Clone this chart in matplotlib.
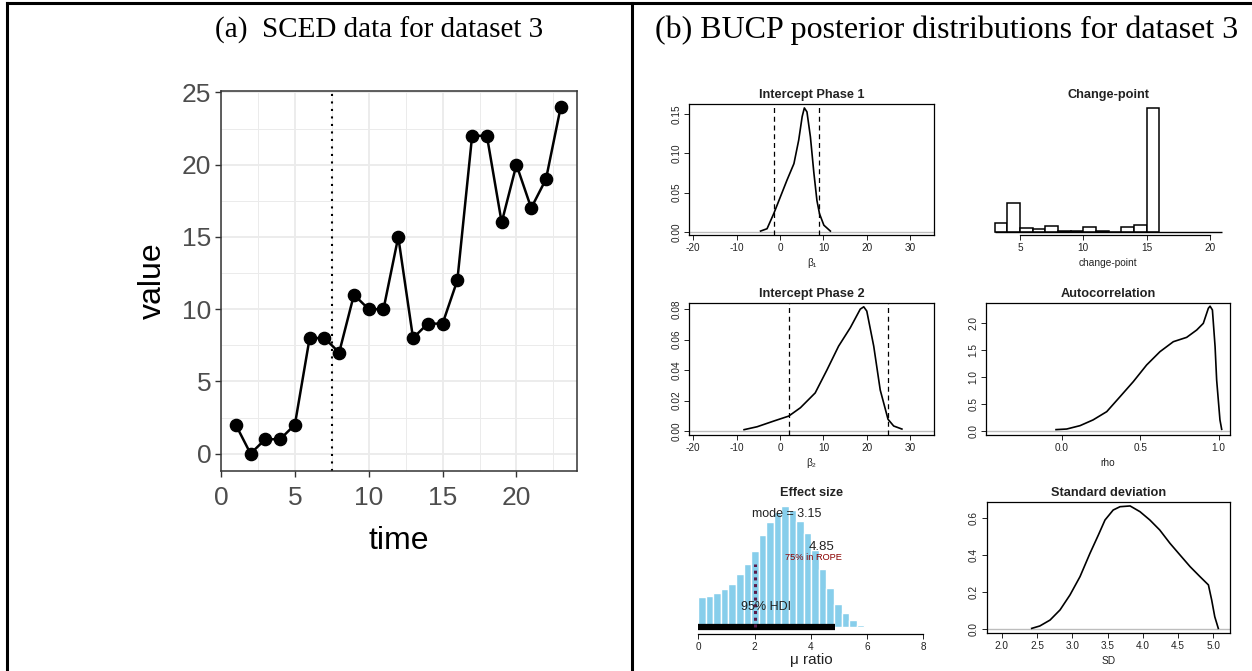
import numpy as np
import matplotlib.pyplot as plt
from matplotlib.lines import Line2D

plt.rcParams['font.family'] = ['Liberation Sans', 'DejaVu Sans']
plt.rcParams['axes.unicode_minus'] = False

W, H = 1252, 671

# --- (a) SCED data ---
time = list(range(1, 24))
value = [2, 0, 1, 1, 2, 8, 8, 7, 11, 10, 10, 15, 8, 9, 9, 12, 22, 22, 16, 20, 17, 19, 24]
phase_change = 7.5

# --- (b) posterior summaries ---
b1_x = [-4.5, -3.0, -1.4, 0.1, 1.6, 3.2, 4.3, 5.1, 5.6, 6.2, 7.0, 7.8, 8.5, 9.1, 10.1, 11.6]
b1_y = [0.001, 0.004, 0.024, 0.045, 0.066, 0.087, 0.117, 0.147, 0.158, 0.153, 0.121, 0.075, 0.040, 0.023, 0.0085, 0.001]
b1_hdi = [-1.5, 9.0]

b2_x = [-8.3, -5.3, -1.4, 2.0, 4.7, 8.1, 10.8, 13.5, 16.2, 18.5, 19.3, 20.0, 21.6, 23.1, 24.9, 26.2, 28.1]
b2_y = [0.0009, 0.0028, 0.0066, 0.0098, 0.0153, 0.025, 0.040, 0.0557, 0.0678, 0.080, 0.0815, 0.0787, 0.0557, 0.0269, 0.0077, 0.0033, 0.0013]
b2_hdi = [2.0, 24.9]

cp_bins = [3, 4, 5, 6, 7, 8, 9, 10, 11, 12, 13, 14, 15]
cp_prop = [0.043, 0.148, 0.017, 0.016, 0.031, 0.003, 0.003, 0.026, 0.005, 0.0, 0.026, 0.033, 0.647]

rho_x = [-0.036, 0.032, 0.117, 0.2, 0.287, 0.372, 0.456, 0.541, 0.626, 0.711, 0.796, 0.86, 0.902, 0.934, 0.945, 0.96, 0.977, 0.987, 1.008, 1.019]
rho_y = [0.019, 0.03, 0.093, 0.2, 0.354, 0.634, 0.913, 1.224, 1.472, 1.658, 1.739, 1.876, 2.0, 2.28, 2.32, 2.25, 1.565, 0.944, 0.2, 0.025]

es_width = 0.268
es_density = [0.085, 0.088, 0.096, 0.105, 0.120, 0.147, 0.175, 0.212, 0.255, 0.292, 0.319, 0.335,
              0.324, 0.295, 0.260, 0.215, 0.161, 0.110, 0.066, 0.040, 0.022, 0.008, 0.002]
es_mode = 3.15
es_hdi = [0.0, 4.85]
es_rope = 2.0

sd_x = [2.425, 2.54, 2.685, 2.827, 2.968, 3.11, 3.25, 3.37, 3.464, 3.58, 3.677, 3.82, 3.96, 4.1,
        4.24, 4.385, 4.527, 4.67, 4.81, 4.93, 4.976, 5.02, 5.07]
sd_y = [0.005, 0.018, 0.05, 0.105, 0.186, 0.285, 0.41, 0.51, 0.591, 0.645, 0.663, 0.667, 0.636, 0.591,
        0.537, 0.465, 0.402, 0.339, 0.285, 0.24, 0.159, 0.068, 0.005]


def px_axes(fig, x0, y0, x1, y1):
    return fig.add_axes([x0 / W, 1 - y1 / H, (x1 - x0) / W, (y1 - y0) / H])


def r_style(ax, title, xlabel, box=True, yaxis=True):
    for s in ax.spines.values():
        s.set_linewidth(0.9)
        s.set_visible(box)
    ax.tick_params(direction='out', length=3.5, width=0.7, pad=2, labelsize=7.2,
                   colors='#222222')
    ax.set_title(title, fontsize=9.2, fontweight='bold', pad=4, color='#222222')
    ax.set_xlabel(xlabel, fontsize=7.3, labelpad=4, color='#222222')
    if yaxis:
        ax.tick_params(axis='y', labelrotation=90)
        for lbl in ax.get_yticklabels():
            lbl.set_va('center')
    else:
        ax.set_yticks([])


fig = plt.figure(figsize=(W / 100, H / 100), dpi=100)

# frame lines around the two panels
for xs, ys in [([7 / W, 7 / W], [0, 1 - 3 / H]), ([632 / W, 632 / W], [0, 1 - 3 / H]),
               ([7 / W, 1], [1 - 3 / H, 1 - 3 / H])]:
    fig.add_artist(Line2D(xs, ys, color='black', lw=2.2, transform=fig.transFigure))

fig.text(379 / W, 1 - 30 / H, '(a)  SCED data for dataset 3', family='Liberation Serif',
         fontsize=21, ha='center', va='center')
fig.text(947 / W, 1 - 30 / H, '(b) BUCP posterior distributions for dataset 3',
         family='Liberation Serif', fontsize=23, ha='center', va='center')

# --- panel (a) ---
ax = px_axes(fig, 221, 91, 577, 471)
ax.plot(time, value, color='black', lw=1.8, marker='o', markersize=8.8, zorder=3)
ax.axvline(phase_change, color='black', lw=1.5, linestyle=(0, (1, 2.6)), zorder=2)
ax.set_xlim(0, 24.1)
ax.set_ylim(-1.2, 25.1)
ax.set_xticks([0, 5, 10, 15, 20])
ax.set_yticks([0, 5, 10, 15, 20, 25])
ax.set_xticks(np.arange(2.5, 24, 5), minor=True)
ax.set_yticks(np.arange(2.5, 25, 5), minor=True)
ax.grid(which='major', color='#ebebeb', lw=1.3)
ax.grid(which='minor', color='#ebebeb', lw=0.7)
ax.set_axisbelow(True)
for s in ax.spines.values():
    s.set_color('#333333')
    s.set_linewidth(1.1)
ax.tick_params(which='major', length=4, width=1, color='#333333', labelsize=19,
               labelcolor='#4d4d4d', pad=3)
ax.tick_params(axis='x', which='major', pad=7)
ax.tick_params(which='minor', length=0)
ax.set_xlabel('time', fontsize=23, labelpad=11)
ax.set_ylabel('value', fontsize=23, labelpad=10)

# --- panel (b) ---
# Intercept phase 1
ax1 = px_axes(fig, 689, 104, 934, 235)
ax1.axhline(0, color='#bdbdbd', lw=1)
ax1.plot(b1_x, b1_y, color='black', lw=1.2)
for v in b1_hdi:
    ax1.axvline(v, color='black', lw=0.9, linestyle=(0, (4, 3)))
ax1.set_xlim(-21, 35.5)
ax1.set_ylim(-0.004, 0.163)
ax1.set_xticks([-20, -10, 0, 10, 20, 30])
ax1.set_yticks([0.0, 0.05, 0.10, 0.15])
ax1.set_yticklabels(['0.00', '0.05', '0.10', '0.15'])
r_style(ax1, 'Intercept Phase 1', 'β₁')

# Change-point
ax2 = px_axes(fig, 986, 104, 1230, 235)
ax2.bar(cp_bins, cp_prop, width=1, align='edge', color='white', edgecolor='black', lw=1.1)
ax2.hlines(0, 3, 21, color='black', lw=1)
ax2.set_xlim(2.3, 21.6)
ax2.set_ylim(-0.017, 0.666)
ax2.set_xticks([5, 10, 15, 20])
r_style(ax2, 'Change-point', 'change-point', box=False, yaxis=False)
ax2.spines['bottom'].set_visible(True)
ax2.spines['bottom'].set_bounds(5, 20)

# Intercept phase 2
ax3 = px_axes(fig, 689, 302.7, 934, 435.3)
ax3.axhline(0, color='#bdbdbd', lw=1)
ax3.plot(b2_x, b2_y, color='black', lw=1.2)
for v in b2_hdi:
    ax3.axvline(v, color='black', lw=0.9, linestyle=(0, (4, 3)))
ax3.set_xlim(-21, 35.5)
ax3.set_ylim(-0.0028, 0.0842)
ax3.set_xticks([-20, -10, 0, 10, 20, 30])
ax3.set_yticks([0.0, 0.02, 0.04, 0.06, 0.08])
ax3.set_yticklabels(['0.00', '0.02', '0.04', '0.06', '0.08'])
r_style(ax3, 'Intercept Phase 2', 'β₂')

# Autocorrelation
ax4 = px_axes(fig, 986, 302.7, 1230, 435.3)
ax4.axhline(0, color='#bdbdbd', lw=1)
ax4.plot(rho_x, rho_y, color='black', lw=1.2)
ax4.set_xlim(-0.482, 1.072)
ax4.set_ylim(-0.087, 2.385)
ax4.set_xticks([0.0, 0.5, 1.0])
ax4.set_yticks([0.0, 0.5, 1.0, 1.5, 2.0])
r_style(ax4, 'Autocorrelation', 'rho')

# Effect size
ax5 = px_axes(fig, 689, 501.7, 934, 634)
es_left = np.arange(len(es_density)) * es_width
ax5.bar(es_left, es_density, width=es_width, align='edge', color='#87ceeb',
        edgecolor='white', lw=1.0)
ax5.plot(es_hdi, [0, 0], color='black', lw=4.5, solid_capstyle='butt')
ax5.plot([es_rope, es_rope], [0, 0.175], color='#5c1b4a', lw=2.2, linestyle=(0, (1, 1.2)))
ax5.text(es_mode, 0.3135, f'mode = {es_mode}', ha='center', va='center', fontsize=9, color='#222222')
ax5.text(4.37, 0.2215, f'{es_hdi[1]}', ha='center', va='center', fontsize=9.5, color='#222222')
ax5.text(4.08, 0.192, '75% in ROPE', ha='center', va='center', fontsize=6.7, color='#8b0000')
ax5.text(2.42, 0.0575, '95% HDI', ha='center', va='center', fontsize=9, color='#222222')
ax5.set_xlim(-0.33, 8.38)
ax5.set_ylim(-0.018, 0.3475)
ax5.set_xticks([0, 2, 4, 6, 8])
r_style(ax5, 'Effect size', 'μ ratio', box=False, yaxis=False)
ax5.spines['bottom'].set_visible(True)
ax5.spines['bottom'].set_bounds(0, 8)
ax5.xaxis.label.set_size(11)
ax5.xaxis.labelpad = 1

# Standard deviation
ax6 = px_axes(fig, 986.7, 501.7, 1230, 633.3)
ax6.axhline(0, color='#bdbdbd', lw=1)
ax6.plot(sd_x, sd_y, color='black', lw=1.2)
ax6.set_xlim(1.787, 5.236)
ax6.set_ylim(-0.0216, 0.69)
ax6.set_xticks([2.0, 2.5, 3.0, 3.5, 4.0, 4.5, 5.0])
ax6.set_yticks([0.0, 0.2, 0.4, 0.6])
r_style(ax6, 'Standard deviation', 'SD')

fig.savefig('out.png', dpi=100)
